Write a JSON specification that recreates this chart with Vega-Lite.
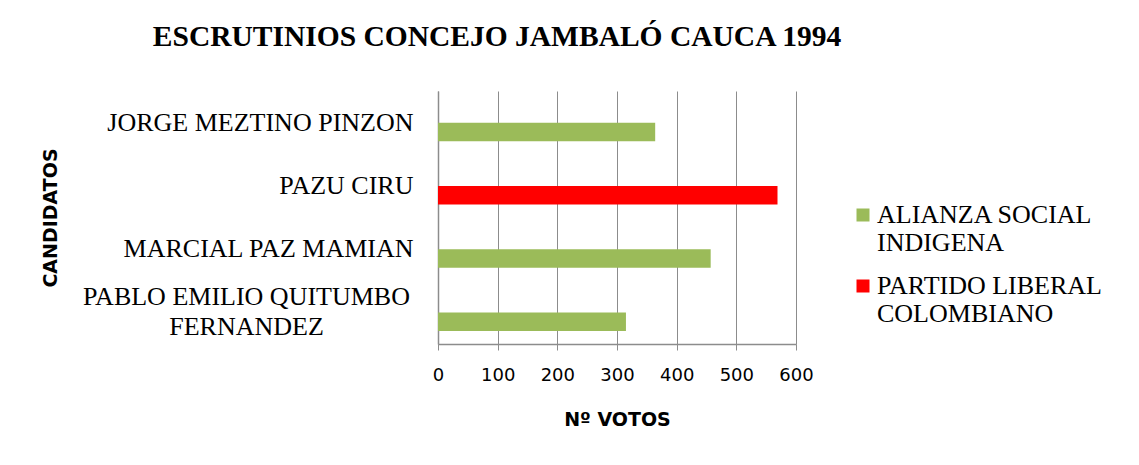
{
  "$schema": "https://vega.github.io/schema/vega-lite/v6.json",
  "autosize": "none",
  "width": 358,
  "height": 253,
  "padding": {"left": 438, "top": 91, "right": 343, "bottom": 121},
  "background": "white",
  "title": {
    "text": "ESCRUTINIOS CONCEJO JAMBALÓ CAUCA 1994",
    "font": "Liberation Serif",
    "fontSize": 29.5,
    "fontWeight": "bold",
    "color": "black",
    "anchor": "middle",
    "dx": -120,
    "baseline": "alphabetic",
    "offset": 16
  },
  "data": {
    "values": [
      {"candidato": "JORGE MEZTINO PINZON", "partido": "ALIANZA SOCIAL INDIGENA", "votos": 364},
      {"candidato": "PAZU CIRU", "partido": "PARTIDO LIBERAL COLOMBIANO", "votos": 569},
      {"candidato": "MARCIAL PAZ MAMIAN", "partido": "ALIANZA SOCIAL INDIGENA", "votos": 457},
      {"candidato": "PABLO EMILIO QUITUMBO FERNANDEZ", "partido": "ALIANZA SOCIAL INDIGENA", "votos": 315}
    ]
  },
  "mark": {"type": "bar", "size": 18.7},
  "encoding": {
    "y": {
      "field": "candidato",
      "type": "nominal",
      "sort": ["JORGE MEZTINO PINZON", "PAZU CIRU", "MARCIAL PAZ MAMIAN", "PABLO EMILIO QUITUMBO FERNANDEZ"],
      "scale": {"paddingInner": 0, "paddingOuter": 0},
      "axis": {
        "title": "CANDIDATOS",
        "titleFont": "DejaVu Sans",
        "titleFontSize": 19,
        "titleFontWeight": "bold",
        "titleColor": "black",
        "titleAngle": -90,
        "titleAlign": "center",
        "titleBaseline": "middle",
        "titleX": -388,
        "labelFont": "Liberation Serif",
        "labelFontSize": 26,
        "labelColor": "black",
        "labelLimit": 500,
        "labelLineHeight": 30,
        "labelExpr": "datum.label == 'PABLO EMILIO QUITUMBO FERNANDEZ' ? ['PABLO EMILIO QUITUMBO', 'FERNANDEZ'] : datum.label",
        "labelAlign": {"condition": {"test": "datum.value == 'PABLO EMILIO QUITUMBO FERNANDEZ'", "value": "center"}, "value": "right"},
        "labelPadding": {"condition": {"test": "datum.value == 'PABLO EMILIO QUITUMBO FERNANDEZ'", "value": 192}, "value": 25},
        "labelOffset": {"condition": {"test": "datum.value == 'PABLO EMILIO QUITUMBO FERNANDEZ'", "value": -15}, "value": 0},
        "ticks": false,
        "grid": false,
        "domainColor": "#8c8c8c",
        "domainWidth": 1.5
      }
    },
    "yOffset": {"value": 41},
    "x": {
      "field": "votos",
      "type": "quantitative",
      "scale": {"domain": [0, 600], "nice": false},
      "axis": {
        "title": "Nº VOTOS",
        "titleFont": "DejaVu Sans",
        "titleFontSize": 19,
        "titleFontWeight": "bold",
        "titleColor": "black",
        "titleY": 66,
        "values": [0, 100, 200, 300, 400, 500, 600],
        "labelFont": "DejaVu Sans",
        "labelFontSize": 18,
        "labelColor": "black",
        "labelPadding": 16,
        "tickSize": 6,
        "tickColor": "#8c8c8c",
        "domainColor": "#8c8c8c",
        "domainWidth": 1.5,
        "grid": true,
        "gridColor": "#8c8c8c",
        "gridWidth": 1,
        "gridOpacity": 1,
        "labelFlush": false
      }
    },
    "color": {
      "field": "partido",
      "type": "nominal",
      "scale": {"domain": ["ALIANZA SOCIAL INDIGENA", "PARTIDO LIBERAL COLOMBIANO"], "range": ["#9bbb59", "#ff0000"]},
      "legend": {
        "title": null,
        "orient": "none",
        "legendX": 412,
        "legendY": 111,
        "padding": 0,
        "symbolType": "square",
        "symbolSize": 169,
        "symbolStrokeWidth": 0,
        "symbolOpacity": 1,
        "labelFont": "Liberation Serif",
        "labelFontSize": 26,
        "labelColor": "black",
        "labelLimit": 400,
        "labelOffset": 1,
        "labelLineHeight": 30,
        "rowPadding": 17,
        "labelExpr": "datum.label == 'ALIANZA SOCIAL INDIGENA' ? ['ALIANZA SOCIAL', 'INDIGENA'] : ['PARTIDO LIBERAL', 'COLOMBIANO']"
      }
    }
  },
  "config": {
    "view": {"stroke": null},
    "legend": {"labelFont": "Liberation Serif"}
  }
}
